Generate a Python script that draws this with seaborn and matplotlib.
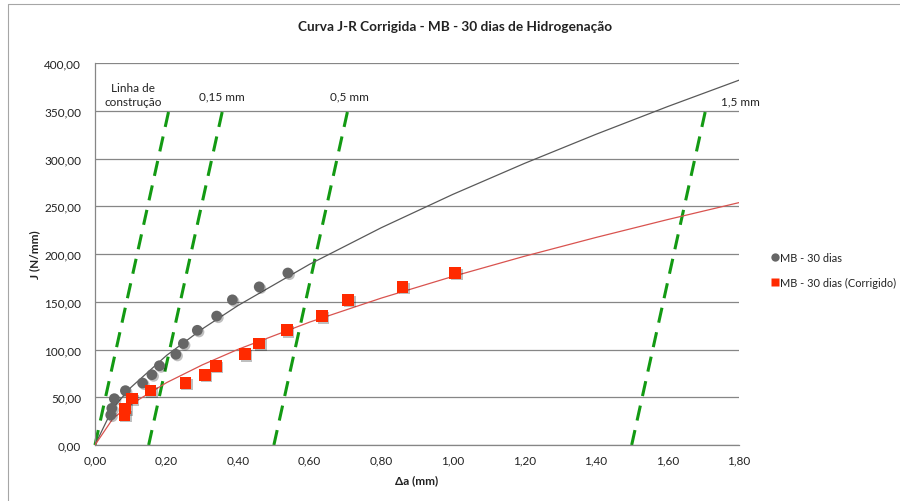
import numpy as np
import pandas as pd
import matplotlib
matplotlib.use("Agg")
import matplotlib.pyplot as plt
import seaborn as sns
from matplotlib.lines import Line2D
from matplotlib.ticker import FixedLocator, FuncFormatter
import matplotlib.patheffects as pe

# ---------------- data ----------------
J_values = [31.4, 38.4, 48.5, 56.9, 64.9, 73.6, 83.0, 95.0, 106.2, 120.1, 135.0, 152.0, 165.6, 180.1]
da_mb = [0.044, 0.047, 0.054, 0.085, 0.133, 0.159, 0.180, 0.226, 0.247, 0.286, 0.340, 0.384, 0.459, 0.539]
da_corr = [0.082, 0.084, 0.103, 0.155, 0.253, 0.307, 0.338, 0.419, 0.459, 0.536, 0.634, 0.708, 0.860, 1.007]

curve_da = [0.0, 0.05, 0.1, 0.2, 0.3, 0.4, 0.6, 0.8, 1.0, 1.2, 1.4, 1.6, 1.8]
curve_mb = [0.0, 38.7, 60.2, 93.8, 121.6, 146.1, 189.3, 227.5, 262.4, 294.8, 325.3, 354.3, 382.0]
curve_corr = [0.0, 27.7, 42.5, 65.3, 83.9, 100.2, 128.7, 153.8, 176.5, 197.6, 217.3, 236.0, 253.8]

offsets = [0.0, 0.15, 0.5, 1.5]
offset_labels = ["Linha de\nconstrução", "0,15 mm", "0,5 mm", "1,5 mm"]
label_x = [0.106, 0.355, 0.710, 1.803]
label_y = [367.0, 366.0, 366.0, 360.5]
cl_da = [0.0, 0.208]
cl_J = [0.0, 353.0]

x_ticks = [0.0, 0.2, 0.4, 0.6, 0.8, 1.0, 1.2, 1.4, 1.6, 1.8]
y_ticks = [0, 50, 100, 150, 200, 250, 300, 350, 400]

series_names = ["MB - 30 dias", "MB - 30 dias (Corrigido)"]
title = "Curva J-R Corrigida - MB - 30 dias de Hidrogenação"

# ---------------- style ----------------
sns.set_style("white")
plt.rcParams['font.family'] = ['Lato', 'DejaVu Sans']

GRAY_PT = "#666666"
RED_PT = "#FF2A00"
GRAY_LN = "#595959"
RED_LN = "#D9534F"
GREEN = "#139A13"
AX_GRAY = "#868686"
TXT = "#222222"

fig = plt.figure(figsize=(9.0, 5.02), dpi=100)
ax = fig.add_axes([95 / 900, 1 - 446 / 502, (739 - 95) / 900, (446 - 64) / 502])

# outer chart frame (top and left edges visible in the crop)
fig.lines.append(Line2D([8 / 900, 8 / 900, 1.0], [0.0, 1 - 5 / 502, 1 - 5 / 502],
                        transform=fig.transFigure, color="#A6A6A6", lw=0.8))

# construction lines
for off in offsets:
    dfl = pd.DataFrame({"da": [off + d for d in cl_da], "J": cl_J})
    sns.lineplot(data=dfl, x="da", y="J", ax=ax, color=GREEN, lw=2.2,
                 dashes=False, estimator=None, sort=False, zorder=2)
    ax.lines[-1].set_dashes((5.0, 3.2))
    ax.lines[-1].set_clip_on(False)

for lx, ly, txt in zip(label_x, label_y, offset_labels):
    ax.text(lx, ly, txt, ha="center", va="center", fontsize=8.5, color=TXT,
            linespacing=1.25, clip_on=False)

# fitted curves
df_c = pd.DataFrame({"da": curve_da, "mb": curve_mb, "corr": curve_corr})
sns.lineplot(data=df_c, x="da", y="mb", ax=ax, color=GRAY_LN, lw=0.9,
             estimator=None, sort=False, zorder=3)
sns.lineplot(data=df_c, x="da", y="corr", ax=ax, color=RED_LN, lw=0.9,
             estimator=None, sort=False, zorder=3)

# points
shadow = [pe.SimplePatchShadow(offset=(1.2, -1.2), shadow_rgbFace="#000000", alpha=0.25),
          pe.Normal()]
df_p = pd.DataFrame({"mb": da_mb, "corr": da_corr, "J": J_values})
sns.scatterplot(data=df_p, x="mb", y="J", ax=ax, color=GRAY_PT, marker="o",
                s=60, edgecolor="none", zorder=4)
ax.collections[-1].set_path_effects(shadow)
sns.scatterplot(data=df_p, x="corr", y="J", ax=ax, color=RED_PT, marker="s",
                s=70, edgecolor="none", zorder=4)
ax.collections[-1].set_path_effects(shadow)

# axes
ax.set_xlim(0, 1.8)
ax.set_ylim(0, 400)
ax.xaxis.set_major_locator(FixedLocator(x_ticks))
ax.yaxis.set_major_locator(FixedLocator(y_ticks))
ax.xaxis.set_major_formatter(FuncFormatter(lambda v, p: f"{v:.2f}".replace(".", ",")))
ax.yaxis.set_major_formatter(FuncFormatter(lambda v, p: f"{v:.2f}".replace(".", ",")))
ax.grid(axis="y", color=AX_GRAY, lw=0.9)
ax.grid(axis="x", visible=False)
ax.set_axisbelow(True)
for side in ["top", "right"]:
    ax.spines[side].set_visible(False)
for side in ["left", "bottom"]:
    ax.spines[side].set_color(AX_GRAY)
    ax.spines[side].set_linewidth(0.9)
ax.tick_params(axis="both", direction="out", length=4, width=0.9, color=AX_GRAY,
               labelsize=8.5, labelcolor=TXT, pad=3)
ax.tick_params(axis="y", pad=6)

ax.set_xlabel("Δa (mm)", fontsize=8.5, fontweight="bold", color=TXT, labelpad=6)
ax.set_ylabel("J (N/mm)", fontsize=8.5, fontweight="bold", color=TXT, labelpad=3)
fig.text(455 / 900, 1 - 27 / 502, title, ha="center", va="center",
         fontsize=9.8, fontweight="bold", color=TXT)

# legend drawn as marker + text pairs
leg_colors = [GRAY_PT, RED_PT]
leg_markers = ["o", "s"]
leg_y = [258, 283]
leg_texts = []
for name, c, m, yy in zip(series_names, leg_colors, leg_markers, leg_y):
    fig.lines.append(Line2D([775 / 900], [1 - yy / 502], marker=m, color="none",
                            markerfacecolor=c, markeredgecolor="none",
                            markersize=6 if m == "o" else 6.2,
                            transform=fig.transFigure))
    t = fig.text(780 / 900, 1 - yy / 502, name, ha="left", va="center",
                 fontsize=8.5, color=TXT)
    leg_texts.append(t)

# shrink legend text so the longest entry fits inside the figure like the reference
fig.canvas.draw()
renderer = fig.canvas.get_renderer()
widest = max(t.get_window_extent(renderer).width for t in leg_texts)
avail = 896 - 780
if widest > avail:
    for t in leg_texts:
        t.set_fontsize(8.5 * avail / widest)

fig.savefig("out.png", dpi=100)
